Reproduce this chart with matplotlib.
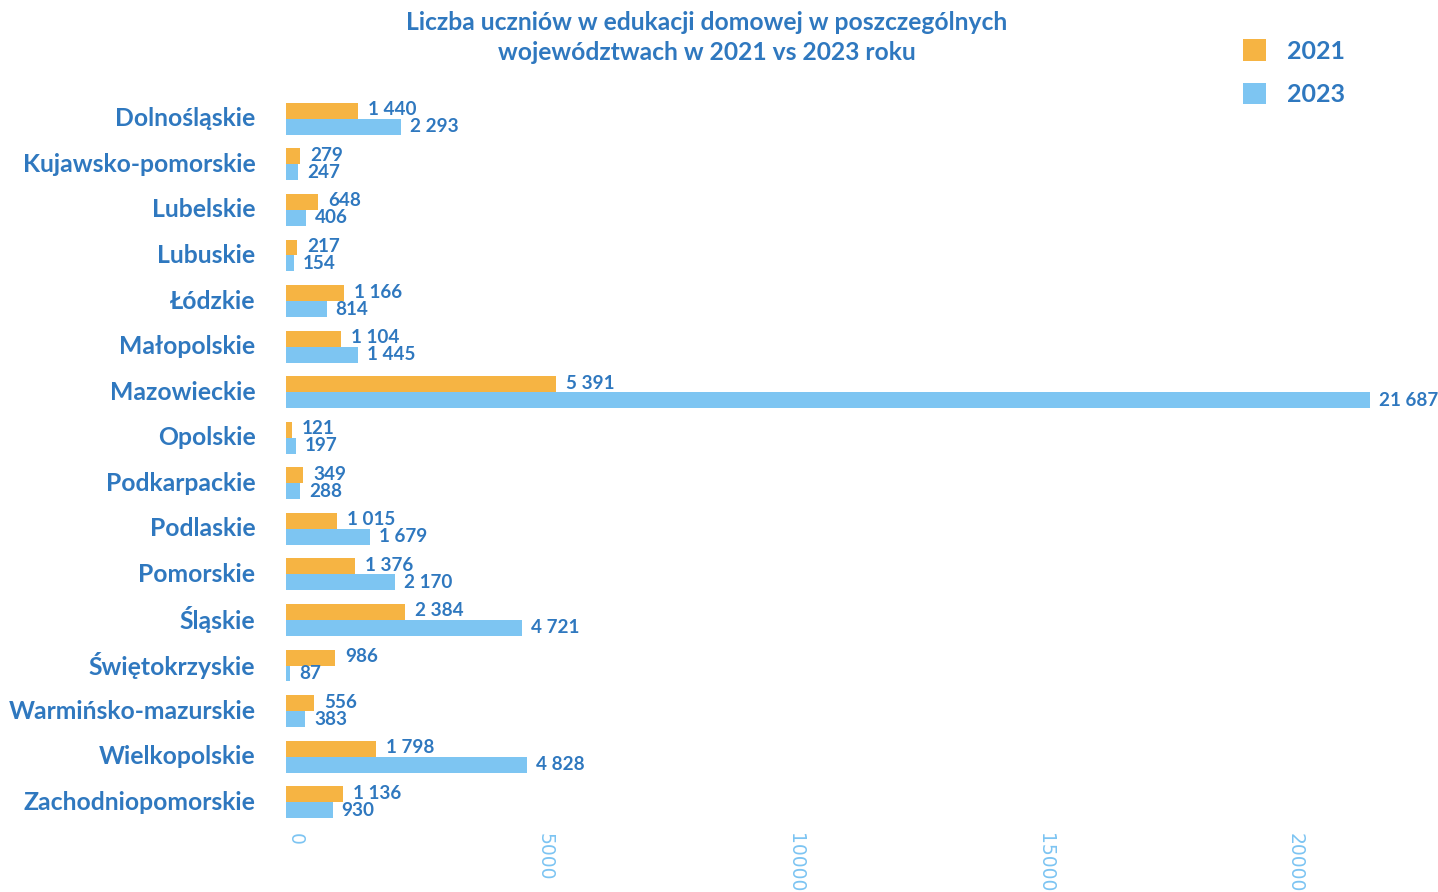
import matplotlib
matplotlib.use("Agg")
import matplotlib.pyplot as plt
import numpy as np

regions = ["Dolnośląskie", "Kujawsko-pomorskie", "Lubelskie", "Lubuskie", "Łódzkie",
           "Małopolskie", "Mazowieckie", "Opolskie", "Podkarpackie", "Podlaskie",
           "Pomorskie", "Śląskie", "Świętokrzyskie", "Warmińsko-mazurskie",
           "Wielkopolskie", "Zachodniopomorskie"]
v2021 = [1440, 279, 648, 217, 1166, 1104, 5391, 121, 349, 1015, 1376, 2384, 986, 556, 1798, 1136]
v2023 = [2293, 247, 406, 154, 814, 1445, 21687, 197, 288, 1679, 2170, 4721, 87, 383, 4828, 930]
xticks = [0, 5000, 10000, 15000, 20000]

ORANGE = "#F6B443"
BLUE = "#7DC5F2"
TEXT = "#2F78BF"
TICK = "#7CC4F2"

def fmt(v):
    return f"{v:,}".replace(",", " ")

W, H = 1438, 892
fig = plt.figure(figsize=(W / 100, H / 100), dpi=100)
ax = fig.add_axes([286 / W, 67 / H, 1150 / W, 729 / H])

y = np.arange(len(regions))
bh = 0.35
ax.barh(y - bh / 2, v2021, height=bh, color=ORANGE, label="2021")
ax.barh(y + bh / 2, v2023, height=bh, color=BLUE, label="2023")
ax.set_ylim(len(regions) - 0.5, -0.5)
ax.set_xlim(0, 23000)

for i, (a, b) in enumerate(zip(v2021, v2023)):
    ax.annotate(fmt(a), (a, i - bh / 2), xytext=(10, 1), textcoords="offset pixels",
                ha="left", va="center", fontsize=13.6, fontweight="bold",
                family="Lato", color=TEXT)
    ax.annotate(fmt(b), (b, i + bh / 2), xytext=(9, 0), textcoords="offset pixels",
                ha="left", va="center", fontsize=13.6, fontweight="bold",
                family="Lato", color=TEXT)

ax.set_yticks(y)
ax.set_yticklabels(regions, family="Lato", fontweight="bold", fontsize=17.8, color=TEXT)
for lbl in ax.get_yticklabels():
    lbl.set_va("center")
ax.set_xticks(xticks)
ax.set_xticklabels([str(t) for t in xticks], rotation=-90, ha="left", va="top",
                   fontsize=13.5, color=TICK, family="DejaVu Sans")
ax.tick_params(axis="y", length=0, pad=22)
ax.tick_params(axis="x", length=0, pad=6)
for s in ax.spines.values():
    s.set_visible(False)

fig.text(707 / W, 1 - 23 / H, "Liczba uczniów w edukacji domowej w poszczególnych",
         ha="center", va="center", fontsize=17.7, fontweight="bold", family="Lato", color=TEXT)
fig.text(707 / W, 1 - 52 / H, "województwach w 2021 vs 2023 roku",
         ha="center", va="center", fontsize=17.7, fontweight="bold", family="Lato", color=TEXT)

leg = fig.legend(loc="upper left", bbox_to_anchor=(1220 / W, 1 - 17 / H), frameon=False,
                 prop={"family": "Lato", "weight": "bold", "size": 18},
                 handlelength=0.92, handleheight=0.92, handletextpad=0.88, labelspacing=0.82)
for t in leg.get_texts():
    t.set_color(TEXT)

fig.savefig("out.png", dpi=100)
